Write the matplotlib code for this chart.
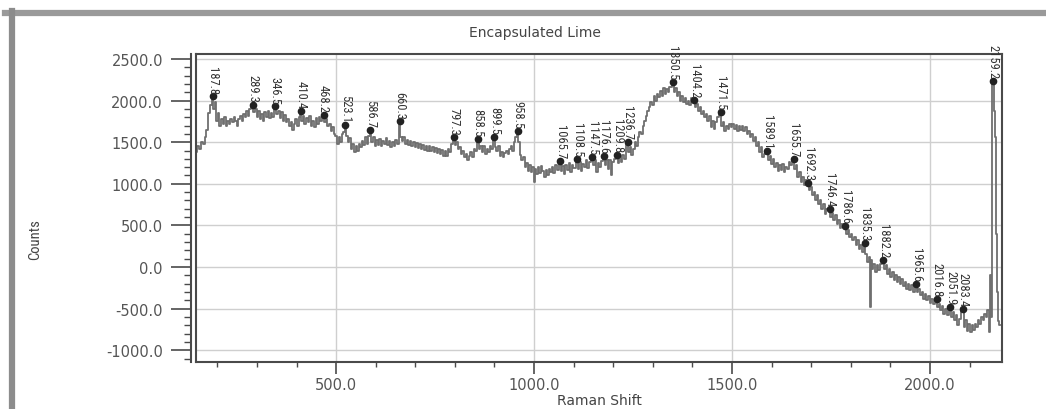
import matplotlib
matplotlib.use('Agg')
import matplotlib.pyplot as plt
from matplotlib.lines import Line2D
from matplotlib.ticker import MultipleLocator, FormatStrFormatter
from matplotlib import font_manager

# Raman spectrum (shift in cm-1, counts)
shift = [
    145, 150, 155, 160, 165, 170, 175, 180, 184, 187.8, 191, 195, 199, 203, 207, 211, 215, 219,
    223, 227, 231, 235, 239, 243, 247, 251, 255, 259, 263, 267, 271, 275, 279, 283, 289.3, 293,
    297, 301, 305, 309, 313, 317, 321, 325, 329, 333, 337, 341, 346.5, 351, 355, 359, 363, 367,
    371, 375, 379, 383, 387, 391, 395, 399, 403, 407, 410.4, 414, 418, 422, 426, 430, 434, 438,
    442, 446, 450, 454, 458, 462, 468.2, 472, 476, 480, 484, 488, 492, 496, 500, 504, 508, 512,
    516, 520, 523.1, 527, 531, 535, 539, 543, 547, 551, 555, 559, 563, 567, 571, 575, 579, 583,
    586.7, 591, 595, 599, 603, 607, 611, 615, 619, 623, 627, 631, 635, 639, 643, 647, 651, 655,
    660.3, 664, 668, 672, 676, 680, 684, 688, 692, 696, 700, 704, 708, 712, 716, 720, 724, 728,
    732, 736, 740, 744, 748, 752, 756, 760, 764, 768, 772, 776, 780, 784, 788, 792, 797.3, 801,
    805, 809, 813, 817, 821, 825, 829, 833, 837, 841, 845, 849, 853, 858.5, 862, 866, 870, 874,
    878, 882, 886, 890, 894, 899.5, 903, 907, 911, 915, 919, 923, 927, 931, 935, 939, 943, 947,
    951, 955, 958.5, 962, 966, 970, 974, 978, 982, 986, 990, 994, 998, 1000, 1003, 1007, 1011,
    1015, 1019, 1023, 1027, 1031, 1035, 1039, 1043, 1047, 1051, 1055, 1059, 1065.7, 1069, 1073,
    1077, 1081, 1085, 1089, 1093, 1097, 1101, 1108.5, 1112, 1116, 1120, 1124, 1128, 1132, 1136,
    1140, 1147.5, 1151, 1155, 1159, 1163, 1167, 1171, 1176.6, 1180, 1184, 1188, 1192, 1196, 1200,
    1204, 1209.8, 1213, 1217, 1221, 1225, 1229, 1236.7, 1240, 1244, 1248, 1252, 1256, 1260, 1264,
    1268, 1272, 1276, 1280, 1284, 1288, 1292, 1296, 1300, 1304, 1308, 1312, 1316, 1320, 1324,
    1328, 1332, 1336, 1340, 1344, 1350.5, 1354, 1358, 1362, 1366, 1370, 1374, 1378, 1382, 1386,
    1390, 1394, 1398, 1404.2, 1408, 1412, 1416, 1420, 1424, 1428, 1432, 1436, 1440, 1444, 1448,
    1452, 1456, 1460, 1464, 1471.5, 1475, 1479, 1483, 1487, 1491, 1495, 1499, 1503, 1507, 1511,
    1515, 1519, 1523, 1527, 1531, 1535, 1539, 1543, 1547, 1551, 1555, 1559, 1563, 1567, 1571,
    1575, 1579, 1583, 1589.1, 1593, 1597, 1601, 1605, 1609, 1613, 1617, 1621, 1625, 1629, 1633,
    1637, 1641, 1645, 1649, 1655.7, 1659, 1663, 1667, 1671, 1675, 1679, 1683, 1687, 1692.3, 1696,
    1700, 1704, 1708, 1712, 1716, 1720, 1724, 1728, 1732, 1736, 1740, 1746.4, 1750, 1754, 1758,
    1762, 1766, 1770, 1774, 1778, 1786.6, 1790, 1794, 1798, 1802, 1806, 1810, 1814, 1818, 1822,
    1826, 1830, 1835.3, 1839, 1843, 1847, 1849, 1851, 1855, 1859, 1863, 1867, 1871, 1875, 1882.2,
    1886, 1890, 1894, 1898, 1902, 1906, 1910, 1914, 1918, 1922, 1926, 1930, 1934, 1938, 1942,
    1946, 1950, 1954, 1958, 1965.6, 1969, 1973, 1977, 1981, 1985, 1989, 1993, 1997, 2001, 2005,
    2009, 2016.8, 2020, 2024, 2028, 2032, 2036, 2040, 2044, 2051.9, 2055, 2059, 2063, 2067, 2071,
    2075, 2083.4, 2087, 2091, 2095, 2099, 2103, 2107, 2111, 2115, 2119, 2123, 2127, 2131, 2135,
    2139, 2143, 2147, 2151, 2154, 2156, 2159.2, 2162, 2165, 2168, 2171, 2174, 2177,
]
counts = [
    1380, 1450, 1420, 1500, 1480, 1560, 1650, 1850, 1950, 2050, 1900, 1980, 1750, 1850, 1700, 1780, 1720, 1800,
    1700, 1760, 1720, 1780, 1740, 1800, 1760, 1690, 1780, 1820, 1760, 1840, 1800, 1880, 1820, 1900, 1950, 1860,
    1900, 1800, 1870, 1780, 1840, 1760, 1860, 1800, 1880, 1790, 1850, 1800, 1930, 1840, 1880, 1790, 1860, 1760,
    1830, 1740, 1780, 1700, 1740, 1650, 1720, 1780, 1700, 1800, 1870, 1760, 1820, 1720, 1790, 1740, 1810, 1700,
    1760, 1680, 1790, 1720, 1800, 1750, 1830, 1740, 1780, 1700, 1720, 1640, 1680, 1600, 1580, 1480, 1560, 1500,
    1600, 1620, 1710, 1580, 1500, 1550, 1420, 1480, 1380, 1460, 1400, 1480, 1440, 1520, 1470, 1560, 1480, 1580,
    1650, 1500, 1560, 1450, 1530, 1470, 1540, 1460, 1520, 1480, 1550, 1470, 1520, 1440, 1500, 1460, 1530, 1480,
    1750, 1560, 1520, 1560, 1480, 1530, 1470, 1510, 1450, 1500, 1440, 1490, 1430, 1480, 1420, 1470, 1410, 1460,
    1400, 1450, 1390, 1440, 1380, 1430, 1370, 1420, 1360, 1410, 1340, 1400, 1330, 1420, 1380, 1480, 1560, 1470,
    1500, 1420, 1440, 1360, 1400, 1320, 1360, 1280, 1340, 1380, 1320, 1420, 1400, 1540, 1420, 1460, 1380, 1450,
    1360, 1420, 1380, 1460, 1420, 1560, 1440, 1400, 1450, 1340, 1380, 1320, 1370, 1400, 1360, 1420, 1450, 1400,
    1500, 1560, 1630, 1500, 1350, 1280, 1320, 1200, 1250, 1150, 1220, 1140, 1200, 1020, 1180, 1120, 1200,
    1130, 1210, 1150, 1080, 1160, 1100, 1180, 1140, 1200, 1130, 1220, 1160, 1270, 1150, 1210,
    1120, 1230, 1170, 1250, 1140, 1230, 1190, 1300, 1180, 1260, 1150, 1240, 1200, 1280, 1190,
    1260, 1320, 1220, 1280, 1140, 1250, 1200, 1270, 1330, 1230, 1290, 1180, 1280, 1100, 1260,
    1300, 1350, 1250, 1320, 1260, 1350, 1300, 1500, 1380, 1440, 1350, 1420, 1500, 1460, 1560,
    1620, 1600, 1700, 1760, 1820, 1880, 1920, 1980, 1950, 2050, 2000, 2080, 2040, 2120, 2060,
    2150, 2080, 2140, 2100, 2160, 2220, 2100, 2150, 2050, 2100, 2000, 2060, 1980, 2030, 1960,
    2000, 1950, 2030, 2010, 1920, 1960, 1880, 1920, 1840, 1880, 1800, 1840, 1760, 1820, 1680,
    1750, 1660, 1740, 1800, 1860, 1700, 1740, 1640, 1700, 1660, 1720, 1680, 1720, 1660, 1710,
    1640, 1690, 1650, 1700, 1640, 1680, 1600, 1640, 1560, 1600, 1520, 1560, 1460, 1500, 1380,
    1440, 1320, 1360, 1390, 1280, 1340, 1240, 1300, 1200, 1250, 1150, 1220, 1160, 1240, 1140,
    1200, 1180, 1260, 1220, 1300, 1180, 1220, 1080, 1140, 1020, 1080, 980, 1040, 1010, 920,
    960, 860, 900, 800, 860, 760, 800, 700, 760, 640, 700, 700, 600, 650, 560,
    620, 520, 560, 470, 520, 490, 400, 440, 360, 400, 320, 360, 260, 320, 220,
    260, 180, 290, 160, 60, 120, -480, 80, -20, 40, -60, 20, -40, 40, 80,
    -20, 20, -80, -20, -120, -60, -160, -100, -180, -120, -200, -150, -230, -180, -260,
    -200, -280, -220, -300, -200, -300, -260, -340, -300, -380, -320, -400, -350, -430, -380,
    -450, -390, -480, -440, -520, -470, -560, -500, -580, -480, -600, -540, -640, -580, -700,
    -620, -510, -720, -640, -770, -680, -780, -700, -760, -680, -720, -640, -680, -600, -640,
    -560, -600, -520, -780, -100, -600, 2240, 1880, 1560, 400, -300, -650, -700,
]

# labelled peaks
peak_shift = [187.8, 289.3, 346.5, 410.4, 468.2, 523.1, 586.7, 660.3, 797.3, 858.5, 899.5,
              958.5, 1065.7, 1108.5, 1147.5, 1176.6, 1209.8, 1236.7, 1350.5, 1404.2, 1471.5,
              1589.1, 1655.7, 1692.3, 1746.4, 1786.6, 1835.3, 1882.2, 1965.6, 2016.8, 2051.9,
              2083.4, 2159.2]
peak_text = ['187.8', '289.3', '346.5', '410.4', '468.2', '523.1', '586.7', '660.3', '797.3',
             '858.5', '899.5', '958.5', '1065.7', '1108.5', '1147.5', '1176.6', '1209.8',
             '1236.7', '1350.5', '1404.2', '1471.5', '1589.1', '1655.7', '1692.3', '1746.4',
             '1786.6', '1835.3', '1882.2', '1965.6', '2016.8', '2051.9', '2083.4', '2159.2']

x_ticks = [500, 1000, 1500, 2000]
y_ticks = [-1000, -500, 0, 500, 1000, 1500, 2000, 2500]

PX = 0.72  # points per pixel at 100 dpi

# a narrow face for the peak labels, if one is installed
names = {f.name for f in font_manager.fontManager.ttflist}
narrow_name = None
for cand in ['Liberation Sans Narrow', 'DejaVu Sans Condensed', 'Roboto Condensed',
             'Open Sans Condensed', 'Noto Sans Condensed']:
    if cand in names:
        narrow_name = cand
        break
condensed = [f.fname for f in font_manager.fontManager.ttflist
             if f.stretch in ('condensed', 'semi-condensed', 'extra-condensed')
             and f.style == 'normal' and f.weight in (400, 'normal')]
if narrow_name:
    label_font = dict(family=[narrow_name, 'DejaVu Sans'])
elif condensed:
    label_font = dict(fname=condensed[0])
else:
    label_font = dict(family=['DejaVu Sans'])
lab_fp = font_manager.FontProperties(size=9, **label_font)

axis_col = '#4a4a4a'

fig = plt.figure(figsize=(10.46, 4.10), dpi=100)
ax = fig.add_axes([196 / 1046, 47 / 410, 806 / 1046, 308 / 410])

ax.plot(shift, counts, color='#6f6f6f', linewidth=1.3, drawstyle='steps-mid', zorder=3)

lookup = dict(zip(shift, counts))
for p, t in zip(peak_shift, peak_text):
    yv = lookup[p]
    ax.plot(p, yv, 'o', color='#222222', markersize=4.5, zorder=4)
    ax.annotate(t, xy=(p, yv), xytext=(0, 2), textcoords='offset points',
                rotation=-90, ha='center', va='bottom', fontproperties=lab_fp,
                color='#333333', zorder=5)

ax.set_xlim(146, 2182)
ax.set_ylim(-1142, 2560)
ax.set_xticks(x_ticks)
ax.set_yticks(y_ticks)
ax.xaxis.set_minor_locator(MultipleLocator(100))
ax.yaxis.set_minor_locator(MultipleLocator(100))
ax.xaxis.set_major_formatter(FormatStrFormatter('%.1f'))
ax.yaxis.set_major_formatter(FormatStrFormatter('%.1f'))
ax.grid(True, which='major', color='#cfcfcf', linewidth=1.0)
ax.set_axisbelow(True)

ax.tick_params(axis='both', which='major', length=20 * PX, width=1.2, color=axis_col,
               labelsize=10.5, labelcolor='#555555', pad=8 * PX)
ax.tick_params(axis='x', which='major', length=12 * PX, pad=3 * PX)
ax.tick_params(axis='both', which='minor', length=7 * PX, width=1.0, color=axis_col)
ax.tick_params(axis='x', which='minor', length=5 * PX)

for s in ax.spines.values():
    s.set_color(axis_col)
    s.set_linewidth(1.5)
ax.spines['left'].set_position(('outward', 5 * PX))
# inner frame line on the left side of the plot
ax.add_line(Line2D([0, 0], [0, 1], transform=ax.transAxes, color=axis_col,
                   linewidth=1.5, clip_on=False, zorder=6))

ax.set_title('Encapsulated Lime', fontsize=10, color='#444444', pad=0, x=0.42, y=1.06)
ax.set_xlabel('Raman Shift', fontsize=10, color='#444444', labelpad=1)
fig.text(35 / 1046, 1 - 240 / 410, 'Counts', rotation=90, ha='center', va='center',
         fontproperties=font_manager.FontProperties(size=10.5, **label_font), color='#444444')

# window border of the screenshot
fig.add_artist(Line2D([5 / 1046, 1.0], [1 - 14 / 410, 1 - 14 / 410], color='#9a9a9a',
                      linewidth=4.5, transform=fig.transFigure))
fig.add_artist(Line2D([12 / 1046, 12 / 1046], [0, 1 - 12 / 410], color='#8c8c8c',
                      linewidth=4.5, transform=fig.transFigure))

fig.savefig('out.png', dpi=100)
